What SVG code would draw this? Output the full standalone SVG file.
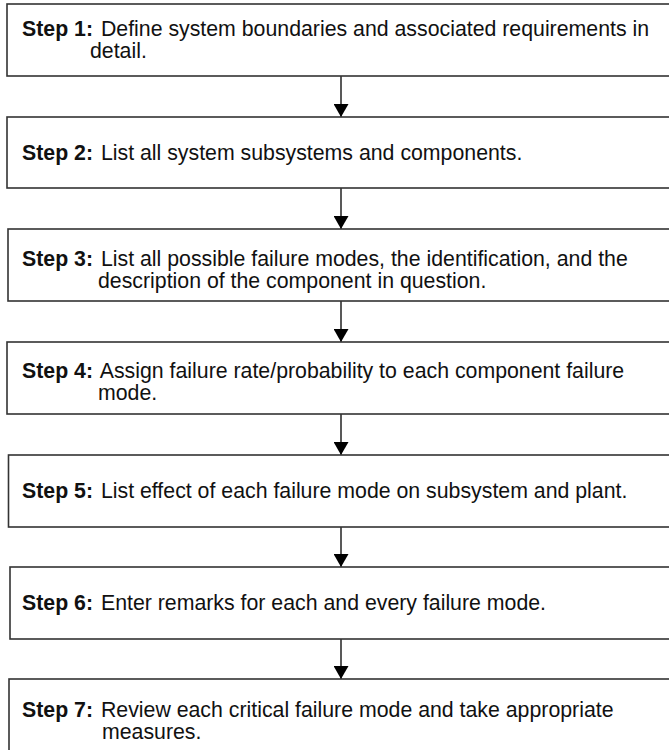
<svg xmlns="http://www.w3.org/2000/svg" width="669" height="750" viewBox="0 0 669 750">
<defs>
<style>
.box{fill:#fff;stroke:#333;stroke-width:1.6}
.t{font-family:"Liberation Sans",Arial,Helvetica,sans-serif;font-size:21.3px;fill:#111}
.b{font-weight:bold}
.c{stroke:#222;stroke-width:1.5;fill:none}
</style>
<marker id="ah" viewBox="0 0 13 15" markerWidth="13" markerHeight="15" refX="13" refY="7.5" orient="auto" markerUnits="userSpaceOnUse">
<path d="M0,0 L13,7.5 L0,15 Z" fill="#000"/>
</marker>
</defs>
<rect width="669" height="750" fill="#fff"/>
<g id="connectors">
<line class="c" x1="341" y1="76" x2="341" y2="117" marker-end="url(#ah)"/>
<line class="c" x1="341" y1="188" x2="341" y2="229" marker-end="url(#ah)"/>
<line class="c" x1="341" y1="301" x2="341" y2="342" marker-end="url(#ah)"/>
<line class="c" x1="341" y1="414" x2="341" y2="455" marker-end="url(#ah)"/>
<line class="c" x1="341" y1="527" x2="341" y2="567" marker-end="url(#ah)"/>
<line class="c" x1="341" y1="639" x2="341" y2="679" marker-end="url(#ah)"/>
</g>
<g id="step1">
<rect class="box" x="7" y="4" width="680" height="72"/>
<text class="t" x="22" y="36"><tspan class="b">Step 1:</tspan><tspan dx="2"> Define system boundaries and associated requirements in</tspan><tspan x="90" dy="22">detail.</tspan></text>
</g>
<g id="step2">
<rect class="box" x="7" y="117" width="680" height="71"/>
<text class="t" x="22" y="160"><tspan class="b">Step 2:</tspan><tspan dx="2"> List all system subsystems and components.</tspan></text>
</g>
<g id="step3">
<rect class="box" x="8" y="229" width="680" height="72"/>
<text class="t" x="22" y="266"><tspan class="b">Step 3:</tspan><tspan dx="2"> List all possible failure modes, the identification, and the</tspan><tspan x="98" dy="22">description of the component in question.</tspan></text>
</g>
<g id="step4">
<rect class="box" x="7" y="342" width="680" height="72"/>
<text class="t" x="22" y="378"><tspan class="b">Step 4:</tspan><tspan dx="2"> Assign failure rate/probability to each component failure</tspan><tspan x="98" dy="22">mode.</tspan></text>
</g>
<g id="step5">
<rect class="box" x="8.5" y="455" width="680" height="72"/>
<text class="t" x="22" y="498"><tspan class="b">Step 5:</tspan><tspan dx="2"> List effect of each failure mode on subsystem and plant.</tspan></text>
</g>
<g id="step6">
<rect class="box" x="10" y="567" width="680" height="72"/>
<text class="t" x="22" y="610"><tspan class="b">Step 6:</tspan><tspan dx="2"> Enter remarks for each and every failure mode.</tspan></text>
</g>
<g id="step7">
<rect class="box" x="9" y="679" width="680" height="80"/>
<text class="t" x="22" y="717"><tspan class="b">Step 7:</tspan><tspan dx="2"> Review each critical failure mode and take appropriate</tspan><tspan x="102" dy="22">measures.</tspan></text>
</g>
</svg>
